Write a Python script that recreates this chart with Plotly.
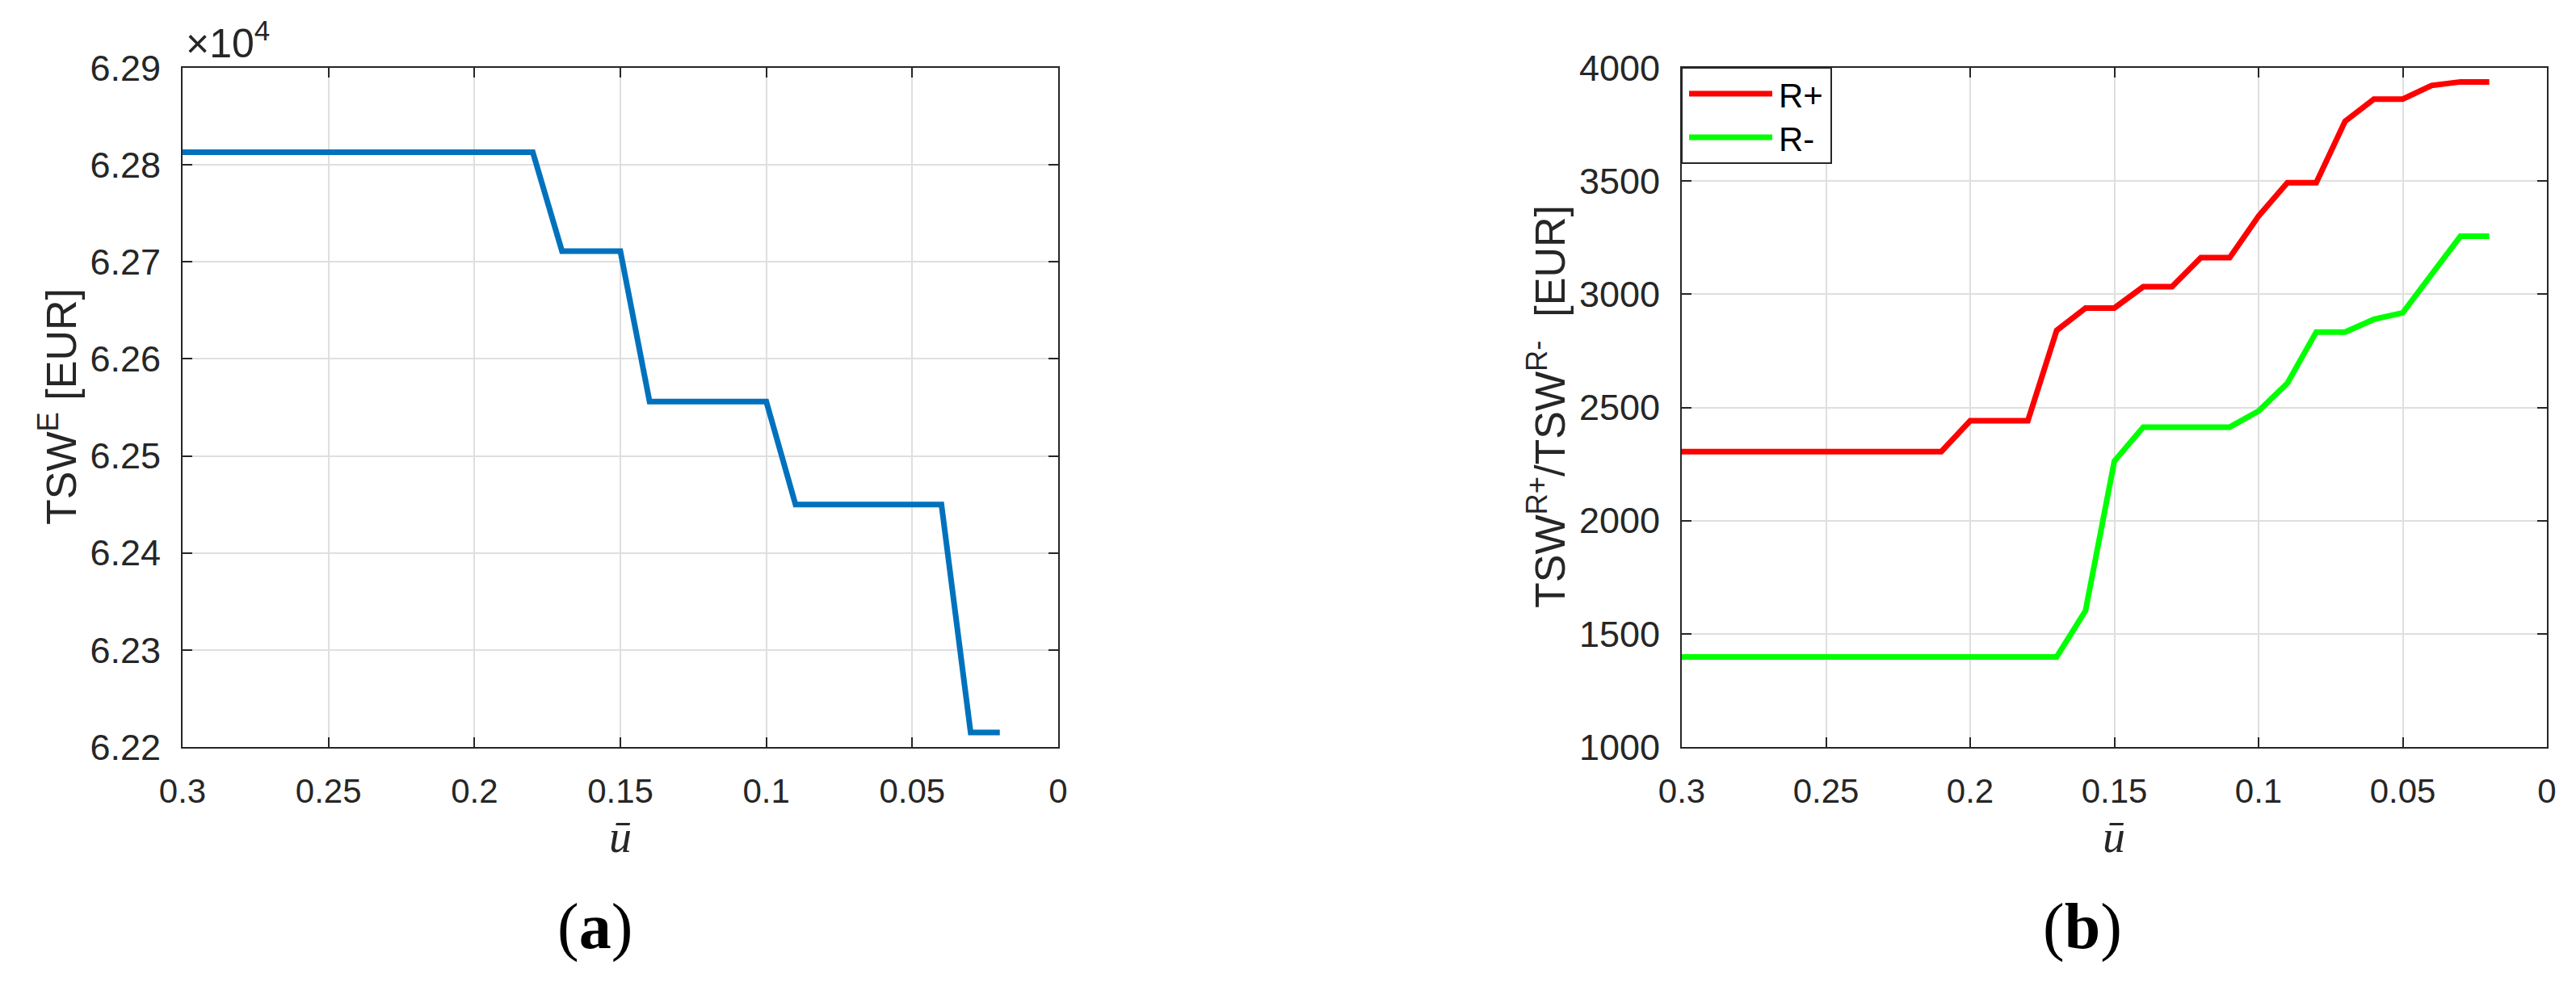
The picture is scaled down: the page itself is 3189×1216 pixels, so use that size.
"""
TSW 随 u_bar 变化的两个子图 (a) TSW^E, (b) TSW^R+ / TSW^R-
"""
import plotly.graph_objects as go

# ---- data ----
u_bar = [0.30, 0.29, 0.28, 0.27, 0.26, 0.25, 0.24, 0.23, 0.22, 0.21,
         0.20, 0.19, 0.18, 0.17, 0.16, 0.15, 0.14, 0.13, 0.12, 0.11,
         0.10, 0.09, 0.08, 0.07, 0.06, 0.05, 0.04, 0.03, 0.02]

# TSW^E in EUR
tsw_e = [62813, 62813, 62813, 62813, 62813, 62813, 62813, 62813, 62813, 62813,
         62813, 62813, 62813, 62711, 62711, 62711, 62556, 62556, 62556, 62556,
         62556, 62450, 62450, 62450, 62450, 62450, 62450, 62215, 62215]

tsw_r_plus = [2305, 2305, 2305, 2305, 2305, 2305, 2305, 2305, 2305, 2305,
              2441, 2441, 2441, 2840, 2939, 2939, 3033, 3033, 3162, 3162,
              3345, 3493, 3493, 3764, 3862, 3862, 3922, 3938, 3938]

tsw_r_minus = [1398, 1398, 1398, 1398, 1398, 1398, 1398, 1398, 1398, 1398,
               1398, 1398, 1398, 1398, 1602, 2263, 2413, 2413, 2413, 2413,
               2484, 2607, 2833, 2833, 2889, 2918, 3087, 3256, 3256]

series_names = ["R+", "R-"]
series_colors = ["#FF0000", "#00FF00"]

x_ticks = [0.3, 0.25, 0.2, 0.15, 0.1, 0.05, 0]
x_ticktext = ["0.3", "0.25", "0.2", "0.15", "0.1", "0.05", "0"]
y1_ticks = [62200, 62300, 62400, 62500, 62600, 62700, 62800, 62900]
y1_ticktext = ["6.22", "6.23", "6.24", "6.25", "6.26", "6.27", "6.28", "6.29"]
y2_ticks = [1000, 1500, 2000, 2500, 3000, 3500, 4000]

W, H = 3189, 1216
OFF = 8  # page body margin
FONT = "Liberation Sans, Arial, sans-serif"
SERIF = "Liberation Serif, Times New Roman, serif"
AX = "#262626"
GRID = "#dfdfdf"


def px_x(p):
    return (p - OFF) / W


def px_y(p):
    # p measured from top of the window
    return 1 - (p - OFF) / H


fig = go.Figure()

fig.add_trace(go.Scatter(x=u_bar, y=tsw_e, mode="lines",
                         line=dict(color="#0072BD", width=7),
                         xaxis="x", yaxis="y"))
for name, ys, col in zip(series_names, [tsw_r_plus, tsw_r_minus], series_colors):
    fig.add_trace(go.Scatter(x=u_bar, y=ys, mode="lines", name=name,
                             line=dict(color=col, width=7),
                             xaxis="x2", yaxis="y2"))

common_x = dict(range=[0.3, 0], tickvals=x_ticks, ticktext=x_ticktext,
                showgrid=True, gridcolor=GRID, gridwidth=2, automargin=False,
                showline=True, linecolor=AX, linewidth=2, mirror="ticks",
                ticks="inside", ticklen=12, tickwidth=2, tickcolor=AX,
                ticklabelstandoff=17, zeroline=False,
                tickfont=dict(family=FONT, size=42, color=AX))
common_y = dict(showgrid=True, gridcolor=GRID, gridwidth=2, automargin=False,
                showline=True, linecolor=AX, linewidth=2, mirror="ticks",
                ticks="inside", ticklen=12, tickwidth=2, tickcolor=AX,
                ticklabelstandoff=16, zeroline=False,
                tickfont=dict(family=FONT, size=45, color=AX),
                domain=[px_y(925), px_y(84)])

fig.update_layout(
    width=W, height=H,
    margin=dict(l=0, r=0, t=0, b=0, autoexpand=False),
    paper_bgcolor="white", plot_bgcolor="white",
    xaxis=dict(common_x, domain=[px_x(226), px_x(1310)], anchor="y"),
    yaxis=dict(common_y, range=[62200, 62900], tickvals=y1_ticks,
               ticktext=y1_ticktext, anchor="x"),
    xaxis2=dict(common_x, domain=[px_x(2082), px_x(3153)], anchor="y2"),
    yaxis2=dict(common_y, range=[1000, 4000], tickvals=y2_ticks, anchor="x2"),
    showlegend=False,
)

# 手工图例 (MATLAB 风格, 长线段)
shapes = [dict(type="rect", xref="paper", yref="paper",
               x0=px_x(2082), x1=px_x(2267), y0=px_y(202), y1=px_y(84),
               line=dict(color=AX, width=2), fillcolor="white", layer="above")]
ann = []
for i, (name, col) in enumerate(zip(series_names, series_colors)):
    yy = 116 + 54 * i
    shapes.append(dict(type="line", xref="paper", yref="paper",
                       x0=px_x(2091), x1=px_x(2194), y0=px_y(yy), y1=px_y(yy),
                       line=dict(color=col, width=7), layer="above"))
    ann.append(dict(x=px_x(2200), y=px_y(yy + 2), xref="paper", yref="paper",
                    xanchor="left", yanchor="middle", showarrow=False,
                    text=name, font=dict(family=FONT, size=42, color="black")))

# x10^4 multiplier
ann.append(dict(x=px_x(228), y=px_y(84), xref="paper", yref="paper",
                xanchor="left", yanchor="bottom", showarrow=False,
                text="×10<sup>4</sup>", font=dict(family=FONT, size=50, color=AX)))
# y titles
ann.append(dict(x=px_x(72), y=px_y(504), xref="paper", yref="paper",
                xanchor="center", yanchor="middle", textangle=-90, showarrow=False,
                text="TSW<sup>E</sup> [EUR]",
                font=dict(family=FONT, size=52, color=AX)))
ann.append(dict(x=px_x(1915), y=px_y(504), xref="paper", yref="paper",
                xanchor="center", yanchor="middle", textangle=-90, showarrow=False,
                text="TSW<sup>R+</sup>/TSW<sup>R-</sup>  [EUR]",
                font=dict(family=FONT, size=52, color=AX)))
# x titles
for cx in [768, 2617]:
    ann.append(dict(x=px_x(cx), y=px_y(1036), xref="paper", yref="paper",
                    xanchor="center", yanchor="middle", showarrow=False,
                    text="<i>ū</i>", font=dict(family=SERIF, size=56, color=AX)))
# panel labels
for cx, lab in [(736, "a"), (2578, "b")]:
    ann.append(dict(x=px_x(cx), y=px_y(1147), xref="paper", yref="paper",
                    xanchor="center", yanchor="middle", showarrow=False,
                    text=f"(<b>{lab}</b>)",
                    font=dict(family=SERIF, size=80, color="black")))

fig.update_layout(shapes=shapes, annotations=ann)

fig.write_html("out.html")
